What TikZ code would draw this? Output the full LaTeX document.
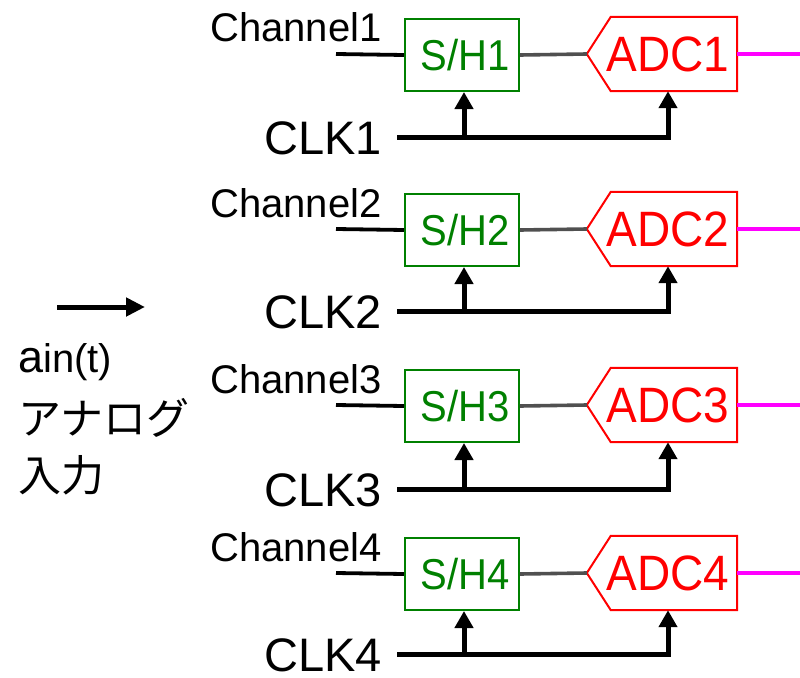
\documentclass[tikz,border=0pt]{standalone}
\usepackage{fontspec}
\setmainfont{Liberation Sans}
\newfontfamily\jpfont{Noto Sans CJK JP}
\usetikzlibrary{arrows.meta,calc}
\definecolor{shgreen}{HTML}{008000}
\definecolor{adcred}{HTML}{FF0000}
\definecolor{outmag}{HTML}{FF00FF}
\definecolor{wiregray}{HTML}{505050}
\newcommand\setfs[1]{\fontsize{#1}{#1}\selectfont}
\newcommand\tallbox[1]{\scalebox{1}[1.08]{#1}}

\begin{document}
\begin{tikzpicture}[x=1pt,y=-1pt,
  shbox/.style={draw=shgreen, line width=2pt, text=shgreen,
    minimum width=114pt, minimum height=72pt, inner sep=0pt,
    font=\setfs{40}, text height=31pt, text depth=0pt},
  adcbox/.style={minimum width=126pt, minimum height=74pt, inner sep=0pt,
    text=adcred, font=\setfs{46}, text height=35.6pt, text depth=0pt},
  adcoutline/.style={draw=adcred, line width=2pt, line join=miter},
  chlabel/.style={anchor=base west, inner sep=0pt, font=\setfs{40}},
  clklabel/.style={anchor=base east, inner sep=0pt, font=\setfs{47},
    text depth=0pt},
  leftlabel/.style={anchor=base west, inner sep=0pt},
  sigwire/.style={line width=3.8pt},
  holdwire/.style={line width=3.6pt, draw=wiregray},
  outwire/.style={line width=3.6pt, draw=outmag},
  clkwire/.style={line width=5pt},
  clktip/.style={-{Triangle[width=18pt,length=17pt]}},
]
\useasboundingbox (0,0) rectangle (800,677);

% four sample/hold + ADC channels
\foreach \i/\y/\c in {1/54/137,2/229/311,3/405/489,4/573/654}{
  \node[shbox] (sh\i) at (462,\y+1) {\hspace*{6pt}\tallbox{S/H\i}};
  \node[adcbox] (adc\i) at (674,\y) {\hspace*{-12pt}\tallbox{ADC\i}};
  \coordinate (tip\i) at ([xshift=-24pt]adc\i.west);
  \draw[adcoutline] (adc\i.north east) -- (adc\i.south east)
    -- (adc\i.south west) -- (tip\i) -- (adc\i.north west) -- cycle;

  % analog input of the channel
  \node[chlabel] (ch\i) at (210,\y-12) {Channel\i};
  \coordinate (in\i) at (336,\y);
  \draw[sigwire] (in\i) -- (sh\i.west);

  % held value into the converter, digital output
  \draw[holdwire] (sh\i.east) -- (tip\i);
  \coordinate (out\i) at (800,\y);
  \draw[outwire] (adc\i.east) -- (out\i);

  % clock distribution
  \node[clklabel] (clk\i) at (382,\c+17) {CLK\i};
  \coordinate (ck\i) at (397,\c);
  \coordinate (ca\i) at ([xshift=-6pt]adc\i.south);
  \coordinate (cs\i) at ([xshift=2pt]sh\i.south);
  \draw[clkwire,clktip] (ck\i) -| (ca\i);
  \draw[clkwire,clktip] (cs\i |- ck\i) -- (cs\i);
}

% analog input legend
\coordinate (ain0) at (57,307);
\coordinate (ain1) at (145,307);
\draw[line width=5pt,-{Triangle[width=18pt,length=19pt]}] (ain0) -- (ain1);
\node[leftlabel] (ain) at (18,372) {\setfs{45}a\setfs{40}in(t)};
\node[leftlabel, font=\jpfont\setfs{43}] (jp1) at (18,434) {アナログ};
\node[leftlabel, font=\jpfont\setfs{43}] (jp2) at (18,491) {入力};
\end{tikzpicture}
\end{document}
